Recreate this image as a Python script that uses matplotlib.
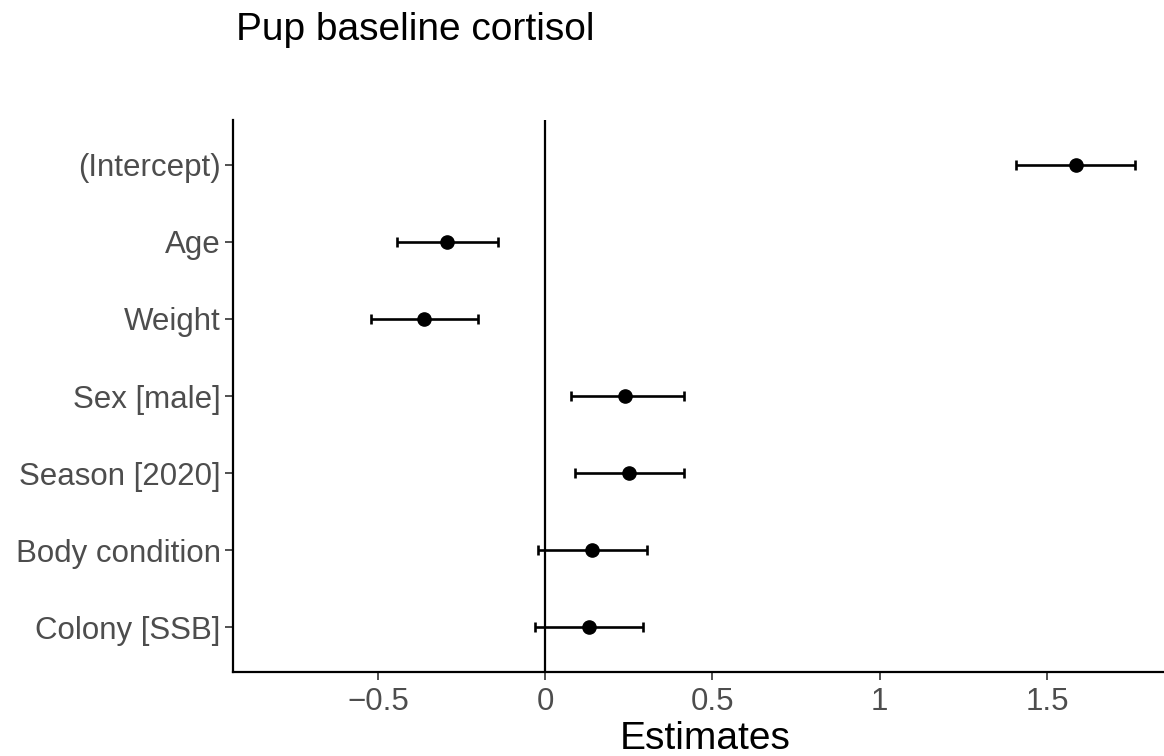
import matplotlib
matplotlib.use("Agg")
import matplotlib.pyplot as plt

terms = ["(Intercept)", "Age", "Weight", "Sex [male]", "Season [2020]", "Body condition", "Colony [SSB]"]
estimates = [1.587, -0.292, -0.362, 0.239, 0.251, 0.140, 0.131]
ci_low = [1.408, -0.443, -0.520, 0.078, 0.090, -0.020, -0.030]
ci_high = [1.763, -0.140, -0.200, 0.415, 0.415, 0.305, 0.293]
xticks = [-0.5, 0, 0.5, 1, 1.5]
xticklabels = ["\u22120.5", "0", "0.5", "1", "1.5"]

plt.rcParams['font.family'] = ['Liberation Sans', 'DejaVu Sans']

fig = plt.figure(figsize=(11.64, 7.56), dpi=100)
ax = fig.add_axes([233/1164, 84/756, 1 - 233/1164, (672-120)/756])

n = len(terms)
ypos = [n - i for i in range(n)]

ax.axvline(0, color="black", lw=1.6, zorder=1)
err_lo = [e - l for e, l in zip(estimates, ci_low)]
err_hi = [h - e for e, h in zip(estimates, ci_high)]
ax.errorbar(estimates, ypos, xerr=[err_lo, err_hi], fmt="o", color="black",
            ms=9.5, elinewidth=1.9, capsize=3.5, capthick=1.9, zorder=3)

ax.set_xlim(-0.933, 1.85)
ax.set_ylim(0.42, n + 0.58)
ax.set_yticks(ypos)
ax.set_yticklabels(terms)
ax.set_xticks(xticks)
ax.set_xticklabels(xticklabels)

for s in ["top", "right"]:
    ax.spines[s].set_visible(False)
for s in ["left", "bottom"]:
    ax.spines[s].set_linewidth(1.6)
    ax.spines[s].set_color("black")

ax.tick_params(axis="both", labelsize=22.5, labelcolor="#4D4D4D", color="#333333",
               length=6, width=1.2, pad=3)
ax.tick_params(axis="x", pad=5)
ax.set_xlabel("Estimates", fontsize=28, color="black", va="baseline")
ax.xaxis.set_label_coords((705 - 233) / 931, -(749 - 672) / 552)
fig.text(236/1164, 1 - 40/756, "Pup baseline cortisol", fontsize=28, color="black",
         ha="left", va="baseline")

fig.savefig("out.png", dpi=100)
